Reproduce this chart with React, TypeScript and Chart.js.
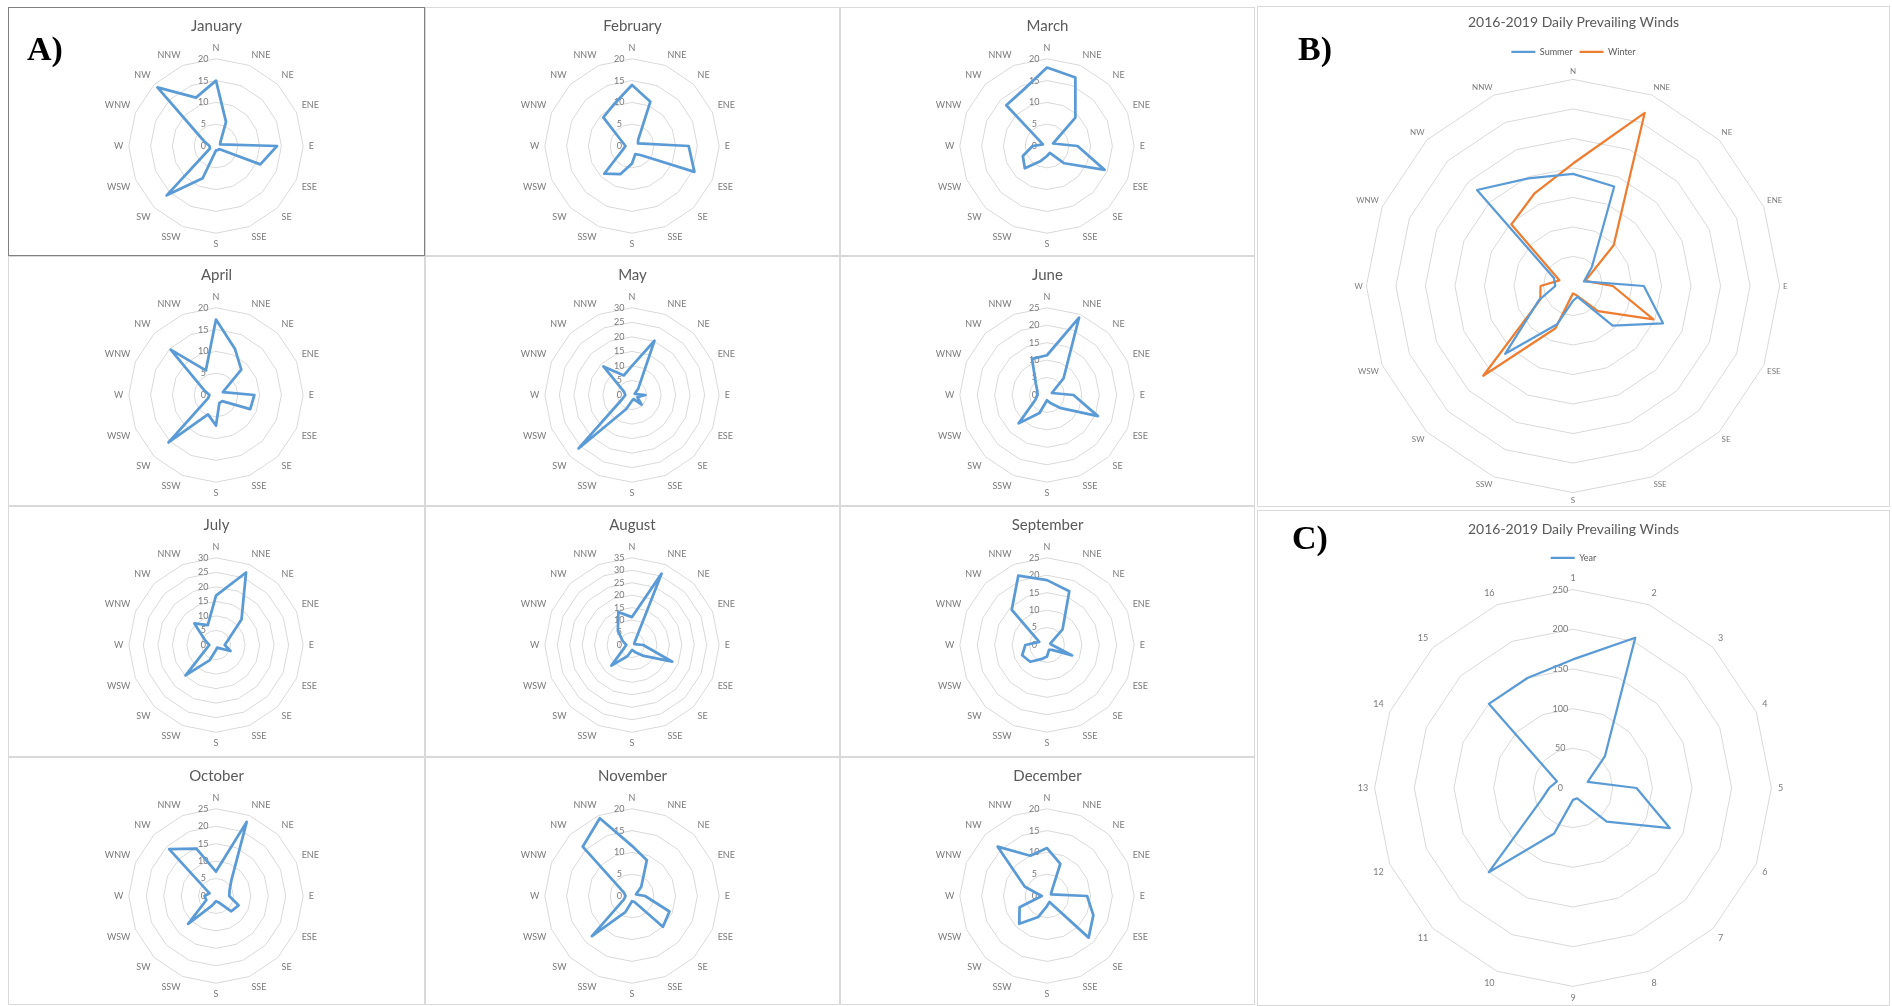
import React, { useEffect, useRef } from 'react';
import { Chart, registerables } from 'chart.js';

Chart.register(...registerables);

const FONT = 'Lato, "Open Sans", sans-serif';
const BLUE = '#5b9bd5';
const ORANGE = '#ed7d31';
const GRID = '#d9d9d9';
const TITLE_COLOR = '#595959';
const LABEL_COLOR = '#7a7a7a';
const TICK_PAD = '\u00a0'.repeat(11);

// ---------- data ----------
const DIRECTIONS = ['N', 'NNE', 'NE', 'ENE', 'E', 'ESE', 'SE', 'SSE', 'S', 'SSW', 'SW', 'WSW', 'W', 'WNW', 'NW', 'NNW'];
const SECTOR_LABELS = ['1', '2', '3', '4', '5', '6', '7', '8', '9', '10', '11', '12', '13', '14', '15', '16'];

const MONTH_NAMES = ['January', 'February', 'March', 'April', 'May', 'June', 'July', 'August', 'September', 'October', 'November', 'December'];
const MONTH_AXIS_MAX = [20, 20, 20, 20, 30, 25, 30, 35, 25, 25, 20, 20];

const JANUARY = [15, 6, 1.5, 1, 14, 11, 1, 1, 1, 8, 16, 1.5, 1.5, 3, 19, 12];
const FEBRUARY = [14, 11, 2, 1.5, 13, 15.5, 3, 2, 4, 7, 9, 2.3, 1.5, 2.4, 9.3, 10.5];
const MARCH = [18, 17, 9.2, 1.5, 7, 14.3, 5.6, 1.7, 2.3, 3.7, 7.2, 6, 3.3, 1, 13.2, 14];
const APRIL = [17.3, 11.4, 8.2, 1.7, 8.8, 8.5, 2, 2, 7, 4.8, 15.4, 2, 1.5, 3, 14.7, 6.1];
const MAY = [10, 20.2, 3, 1, 4.6, 2, 4.7, 1.5, 2, 5.2, 26, 3.6, 2.3, 3, 13.9, 7.3];
const JUNE = [11.4, 24, 6.7, 1.5, 7.6, 15.8, 5.2, 2.5, 1.5, 5.6, 11.5, 3.6, 2.7, 3, 4.5, 11.2];
const JULY = [17, 27, 12.4, 4.5, 3, 5.4, 1.5, 1, 1.7, 5.6, 14.8, 3.7, 2.3, 4, 10.5, 7.4];
const AUGUST = [11.2, 31, 1.5, 1, 4.5, 17.5, 6, 3, 2, 4.9, 11.7, 3.5, 2.3, 4, 8, 14.3];
const SEPTEMBER = [18.6, 16.7, 6.3, 1, 1.5, 7.8, 2, 1.5, 3.3, 4.4, 6.8, 7.7, 6.2, 2.4, 14.3, 21.5];
const OCTOBER = [7, 23, 6.2, 4.2, 3.8, 7, 6.2, 2, 1.5, 3, 11.3, 3, 3.3, 2, 19, 14.7];
const NOVEMBER = [11.5, 8.9, 3, 1, 3, 9.3, 10, 1.5, 1.2, 4, 13, 2, 1.5, 2, 16, 19.3];
const DECEMBER = [11, 8, 1.5, 1, 9.2, 11.5, 13.5, 1.5, 2.3, 5.2, 9, 6.8, 1.2, 5.5, 16, 10];

const MONTH_VALUES = [JANUARY, FEBRUARY, MARCH, APRIL, MAY, JUNE, JULY, AUGUST, SEPTEMBER, OCTOBER, NOVEMBER, DECEMBER];

const SUMMER = [76, 73, 18, 8, 48, 66, 38, 8, 10, 28, 65, 25, 12, 14, 92, 79];
const WINTER = [83, 127, 39, 9, 27, 59, 24, 7, 5, 31, 86, 24, 22, 10, 59, 68];
const YEAR = [162, 205, 57, 20, 80, 132, 60, 14, 15, 62, 150, 45, 30, 22, 150, 150];

const PANEL_TITLE = '2016-2019 Daily Prevailing Winds';

// ---------- layout ----------
const COL_X = [8, 425, 840];
const COL_W = [417, 415, 415];
const ROW_Y = [7, 256, 506, 757];
const ROW_H = [249, 250, 251, 248];

const B_RECT = { x: 1257, y: 6, w: 633, h: 501 };
const C_RECT = { x: 1257, y: 510, w: 633, h: 496 };

// draws the "0" tick at the centre (Chart.js skips the first radial tick)
const zeroTickPlugin = {
  id: 'zeroTick',
  beforeDatasetsDraw(chart: any) {
    const scale = chart.scales.r;
    if (!scale || !scale.options.ticks.display) return;
    const ctx = chart.ctx;
    ctx.save();
    ctx.font = `9px ${FONT}`;
    ctx.fillStyle = LABEL_COLOR;
    ctx.textAlign = 'center';
    ctx.textBaseline = 'middle';
    ctx.fillText('0' + TICK_PAD, scale.xCenter, scale.yCenter);
    ctx.restore();
  },
};

function monthConfig(title: string, values: number[], max: number, bottomPad: number): any {
  return {
    type: 'radar',
    data: {
      labels: DIRECTIONS,
      datasets: [
        {
          label: title,
          data: values,
          borderColor: BLUE,
          backgroundColor: BLUE,
          borderWidth: 2.75,
          pointRadius: 0,
          pointHoverRadius: 0,
          fill: false,
          tension: 0,
        },
      ],
    },
    options: {
      animation: false,
      responsive: false,
      maintainAspectRatio: false,
      events: [],
      layout: { padding: { top: 0, bottom: bottomPad, left: 0, right: 0 } },
      elements: { line: { borderJoinStyle: 'round' } },
      plugins: {
        legend: { display: false },
        tooltip: { enabled: false },
        title: {
          display: true,
          text: title,
          color: TITLE_COLOR,
          font: { family: FONT, size: 15, weight: 'normal' },
          padding: { top: 10, bottom: 8.5 },
        },
      },
      scales: {
        r: {
          min: 0,
          max,
          angleLines: { display: false },
          grid: { color: GRID, lineWidth: 1 },
          ticks: {
            stepSize: 5,
            color: LABEL_COLOR,
            font: { family: FONT, size: 9 },
            showLabelBackdrop: false,
            backdropPadding: 0,
            callback: (v: any) => String(v) + TICK_PAD,
          },
          pointLabels: {
            color: LABEL_COLOR,
            font: { family: FONT, size: 9 },
            padding: 1,
          },
        },
      },
    },
    plugins: [zeroTickPlugin],
  };
}

function seasonConfig(): any {
  return {
    type: 'radar',
    data: {
      labels: DIRECTIONS,
      datasets: [
        { label: 'Summer', data: SUMMER, borderColor: BLUE, backgroundColor: BLUE, borderWidth: 2.25, pointRadius: 0, fill: false, tension: 0 },
        { label: 'Winter', data: WINTER, borderColor: ORANGE, backgroundColor: ORANGE, borderWidth: 2.25, pointRadius: 0, fill: false, tension: 0 },
      ],
    },
    options: {
      animation: false,
      responsive: false,
      maintainAspectRatio: false,
      events: [],
      layout: { padding: { top: 0, bottom: 1.1, left: 0, right: 0 } },
      elements: { line: { borderJoinStyle: 'round' } },
      plugins: {
        tooltip: { enabled: false },
        title: {
          display: true,
          text: PANEL_TITLE,
          color: TITLE_COLOR,
          font: { family: FONT, size: 14, weight: 'normal' },
          padding: { top: 8, bottom: 9.5 },
        },
        legend: {
          display: true,
          position: 'top',
          labels: {
            color: TITLE_COLOR,
            font: { family: FONT, size: 9 },
            usePointStyle: true,
            pointStyle: 'line',
            pointStyleWidth: 24,
            boxHeight: 9,
            padding: 7,
          },
        },
      },
      scales: {
        r: {
          min: 0,
          max: 140,
          angleLines: { display: false },
          grid: { color: GRID, lineWidth: 1 },
          ticks: { display: false, stepSize: 20 },
          pointLabels: { color: LABEL_COLOR, font: { family: FONT, size: 8 }, padding: 3.5 },
        },
      },
    },
  };
}

function yearConfig(): any {
  return {
    type: 'radar',
    data: {
      labels: SECTOR_LABELS,
      datasets: [
        { label: 'Year', data: YEAR, borderColor: BLUE, backgroundColor: BLUE, borderWidth: 2.25, pointRadius: 0, fill: false, tension: 0 },
      ],
    },
    options: {
      animation: false,
      responsive: false,
      maintainAspectRatio: false,
      events: [],
      layout: { padding: { top: 0, bottom: 0.6, left: 0, right: 0 } },
      elements: { line: { borderJoinStyle: 'round' } },
      plugins: {
        tooltip: { enabled: false },
        title: {
          display: true,
          text: PANEL_TITLE,
          color: TITLE_COLOR,
          font: { family: FONT, size: 14, weight: 'normal' },
          padding: { top: 11, bottom: 8.5 },
        },
        legend: {
          display: true,
          position: 'top',
          labels: {
            color: TITLE_COLOR,
            font: { family: FONT, size: 9 },
            usePointStyle: true,
            pointStyle: 'line',
            pointStyleWidth: 24,
            boxHeight: 9,
            padding: 7,
          },
        },
      },
      scales: {
        r: {
          min: 0,
          max: 250,
          angleLines: { display: false },
          grid: { color: GRID, lineWidth: 1 },
          ticks: {
            stepSize: 50,
            color: LABEL_COLOR,
            font: { family: FONT, size: 9 },
            showLabelBackdrop: false,
            backdropPadding: 0,
            callback: (v: any) => String(v) + TICK_PAD,
          },
          pointLabels: { color: LABEL_COLOR, font: { family: FONT, size: 9 }, padding: 2 },
        },
      },
    },
    plugins: [zeroTickPlugin],
  };
}

type Rect = { x: number; y: number; w: number; h: number };

function ChartCanvas({ rect, makeConfig }: { rect: Rect; makeConfig: () => any }) {
  const ref = useRef<HTMLCanvasElement | null>(null);
  useEffect(() => {
    if (!ref.current) return;
    const chart = new Chart(ref.current, makeConfig());
    return () => chart.destroy();
  }, []);
  return (
    <canvas
      ref={ref}
      width={rect.w}
      height={rect.h}
      style={{ position: 'absolute', left: rect.x, top: rect.y, width: rect.w, height: rect.h }}
    />
  );
}

function Frame({ rect, color }: { rect: Rect; color: string }) {
  return (
    <div
      style={{
        position: 'absolute',
        left: rect.x,
        top: rect.y,
        width: rect.w,
        height: rect.h,
        border: `1px solid ${color}`,
        boxSizing: 'border-box',
      }}
    />
  );
}

const tagStyle: React.CSSProperties = {
  position: 'absolute',
  fontFamily: '"Liberation Serif", "Times New Roman", serif',
  fontWeight: 'bold',
  fontSize: 34,
  lineHeight: '34px',
  color: '#000',
};

export default function App() {
  const monthRects: Rect[] = MONTH_NAMES.map((_, i) => {
    const c = i % 3;
    const r = Math.floor(i / 3);
    return { x: COL_X[c], y: ROW_Y[r], w: COL_W[c], h: ROW_H[r] };
  });

  return (
    <div
      style={{
        position: 'fixed',
        left: 0,
        top: 0,
        width: 1892,
        height: 1006,
        background: '#ffffff',
        overflow: 'hidden',
      }}
    >
      {monthRects.map((rect, i) => (
        <Frame key={'f' + i} rect={rect} color={i === 0 ? '#808080' : '#d9d9d9'} />
      ))}
      <Frame rect={B_RECT} color="#d9d9d9" />
      <Frame rect={C_RECT} color="#d9d9d9" />

      {monthRects.map((rect, i) => (
        <ChartCanvas
          key={'c' + i}
          rect={rect}
          makeConfig={() => monthConfig(MONTH_NAMES[i], MONTH_VALUES[i], MONTH_AXIS_MAX[i], rect.h - 243.5)}
        />
      ))}
      <ChartCanvas rect={B_RECT} makeConfig={seasonConfig} />
      <ChartCanvas rect={C_RECT} makeConfig={yearConfig} />

      <div style={{ ...tagStyle, left: 27, top: 32 }}>A)</div>
      <div style={{ ...tagStyle, left: 1298, top: 32 }}>B)</div>
      <div style={{ ...tagStyle, left: 1292, top: 521 }}>C)</div>
    </div>
  );
}
